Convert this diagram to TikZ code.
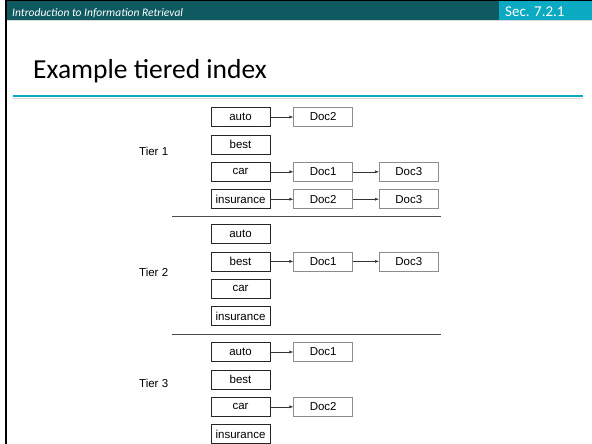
\documentclass[tikz,border=0pt]{standalone}
\usepackage{fontspec}
\newfontfamily\arialfont{Liberation Sans}
\newfontfamily\slidefont{Carlito}
\usetikzlibrary{arrows.meta,positioning}
\definecolor{hdrdark}{HTML}{0F5960}
\definecolor{hdrlight}{HTML}{0CA9C2}
\tikzset{
  postarr/.style={-{Latex[length=4pt,width=3pt]}, draw=black!80, line width=0.5pt},
  termbox/.style={draw=black!85, line width=0.8pt, minimum width=59pt, minimum height=19pt,
    inner sep=0pt, font=\arialfont\fontsize{11.5}{12}\selectfont},
  docbox/.style={termbox, draw=black!45, line width=0.6pt},
  tiersep/.style={draw=black!70, line width=1pt},
}

\begin{document}
\begin{tikzpicture}[
  x=1pt, y=-1pt,
  node distance=0pt and 23pt,
  tierlbl/.style={anchor=west, inner sep=0pt, font=\arialfont\fontsize{11.5}{12}\selectfont},
]
  \useasboundingbox (0,0) rectangle (592,444);
  % slide frame and header
  \fill[black] (5,0) rectangle (7,444);
  \fill[black] (5,0) rectangle (592,1.5);
  \fill[hdrdark] (7,1.5) rectangle (499,20);
  \fill[hdrlight] (499,1.5) rectangle (592,20);
  \draw[black!15] (7,20.5) -- (592,20.5);
  \node[anchor=base west, inner sep=0pt, text=white, font=\slidefont\itshape\fontsize{11.5}{14}\selectfont]
    (course) at (12,16.5) {Introduction to Information Retrieval};
  \node[anchor=base west, inner sep=0pt, text=white, font=\slidefont\fontsize{15}{17}\selectfont]
    (sec) at (505,17) {Sec. 7.2.1};
  \node[anchor=base west, inner sep=0pt, font=\slidefont\fontsize{27.5}{30}\selectfont]
    (title) at (33,78.5) {Example tiered index};
  \draw[hdrlight, line width=2pt] (13,96.5) -- (583,96.5);
  \draw[black!15, line width=1pt] (13,98.3) -- (583,98.3);

  % term lists, one block per tier
  \foreach \tier/\ty in {1/117,2/234,3/352}
    \foreach \term [count=\r from 0] in {auto,best,car,insurance}
      \node[termbox] (\term\tier) at (240.5,\ty+27.4*\r) {\term};

  \node[tierlbl] (tier1) at (139,151) {Tier 1};
  \node[tierlbl] (tier2) at (139,272) {Tier 2};
  \node[tierlbl] (tier3) at (139,383) {Tier 3};

  % postings
  \node[docbox, right=of auto1] (auto1a) {Doc2};
  \node[docbox, right=of car1] (car1a) {Doc1};
  \node[docbox, right=26pt of car1a] (car1b) {Doc3};
  \node[docbox, right=of insurance1] (insurance1a) {Doc2};
  \node[docbox, right=26pt of insurance1a] (insurance1b) {Doc3};
  \node[docbox, right=of best2] (best2a) {Doc1};
  \node[docbox, right=26pt of best2a] (best2b) {Doc3};
  \node[docbox, right=of auto3] (auto3a) {Doc1};
  \node[docbox, right=of car3] (car3a) {Doc2};

  \foreach \a/\b in {auto1/auto1a,car1/car1a,car1a/car1b,insurance1/insurance1a,
      insurance1a/insurance1b,best2/best2a,best2a/best2b,auto3/auto3a,car3/car3a}
    \draw[postarr] (\a) -- (\b);

  % tier separators
  \draw[tiersep] (172,216) -- (441,216);
  \draw[tiersep] (172,334) -- (441,334);
\end{tikzpicture}
\end{document}
